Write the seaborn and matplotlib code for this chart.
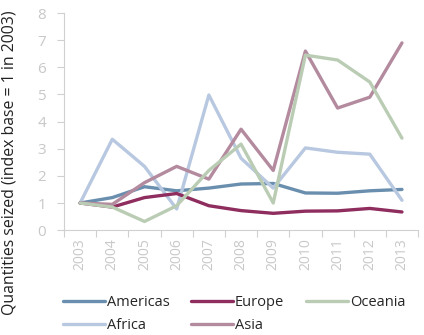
import matplotlib
matplotlib.use("Agg")
import matplotlib.pyplot as plt
import seaborn as sns
import pandas as pd
from matplotlib.ticker import FixedLocator

years = ["2003", "2004", "2005", "2006", "2007", "2008", "2009", "2010", "2011", "2012", "2013"]
americas = [1.0, 1.2, 1.6, 1.45, 1.55, 1.7, 1.72, 1.37, 1.36, 1.45, 1.5]
europe = [1.0, 0.85, 1.2, 1.35, 0.9, 0.72, 0.62, 0.7, 0.71, 0.8, 0.67]
oceania = [1.0, 0.85, 0.32, 0.9, 2.2, 3.17, 1.0, 6.45, 6.27, 5.46, 3.39]
africa = [1.0, 3.35, 2.35, 0.78, 4.98, 2.65, 1.55, 3.03, 2.87, 2.8, 1.1]
asia = [1.0, 0.95, 1.75, 2.35, 1.88, 3.72, 2.2, 6.6, 4.5, 4.9, 6.9]

series = {"Americas": americas, "Europe": europe, "Oceania": oceania,
          "Africa": africa, "Asia": asia}
colors = {"Americas": "#6A8FAE", "Europe": "#8E2D5E", "Oceania": "#BACDB4",
          "Africa": "#B8C8E0", "Asia": "#B38A9E"}

rows = []
for name, vals in series.items():
    for i, v in enumerate(vals):
        rows.append({"x": i, "year": years[i], "value": v, "region": name})
df = pd.DataFrame(rows)

sns.set_theme(style="white")
plt.rcParams["font.family"] = ["Open Sans", "DejaVu Sans"]

fig = plt.figure(figsize=(4.24, 3.35), dpi=100)
ax = fig.add_axes([0.151, 0.313, 0.835, 0.648])

hue_order = ["Americas", "Africa", "Europe", "Asia", "Oceania"]
sns.lineplot(data=df, x="x", y="value", hue="region", hue_order=hue_order,
             palette=colors, linewidth=2.4, ax=ax, legend=True)

ax.set_xlim(-0.5, 10.5)
ax.set_ylim(0, 8)
ax.set_xticks(range(len(years)))
ax.set_xticklabels(years, rotation=90, color="#C8C8C8", fontsize=10)
ax.xaxis.set_minor_locator(FixedLocator([i - 0.5 for i in range(len(years) + 1)]))
ax.tick_params(axis="x", which="major", length=0, pad=6)
ax.tick_params(axis="x", which="minor", length=5, width=0.8, color="#D0D0D0", direction="out", bottom=True)
ax.set_yticks(range(0, 9))
ax.set_yticklabels([str(i) for i in range(0, 9)], color="#C8C8C8", fontsize=11)
ax.tick_params(axis="y", length=5, width=0.8, color="#D0D0D0", direction="out", left=True, pad=8)
ax.set_xlabel("")
ax.set_ylabel("Quantities seized (index base = 1 in 2003)", fontsize=11.4, color="#222222")
ax.yaxis.set_label_coords(-0.13, 0.31)

for s in ["top", "right"]:
    ax.spines[s].set_visible(False)
for s in ["left", "bottom"]:
    ax.spines[s].set_color("#D0D0D0")
    ax.spines[s].set_linewidth(0.8)

handles, labels = ax.get_legend_handles_labels()
ax.legend(handles, labels, ncol=3, loc="upper left", bbox_to_anchor=(0.148, 0.118),
          bbox_transform=fig.transFigure, frameon=False, fontsize=10.5,
          handlelength=2.9, handletextpad=0.1, columnspacing=1.5, labelspacing=0.55,
          borderaxespad=0, borderpad=0)

fig.savefig("out.png", dpi=100)
